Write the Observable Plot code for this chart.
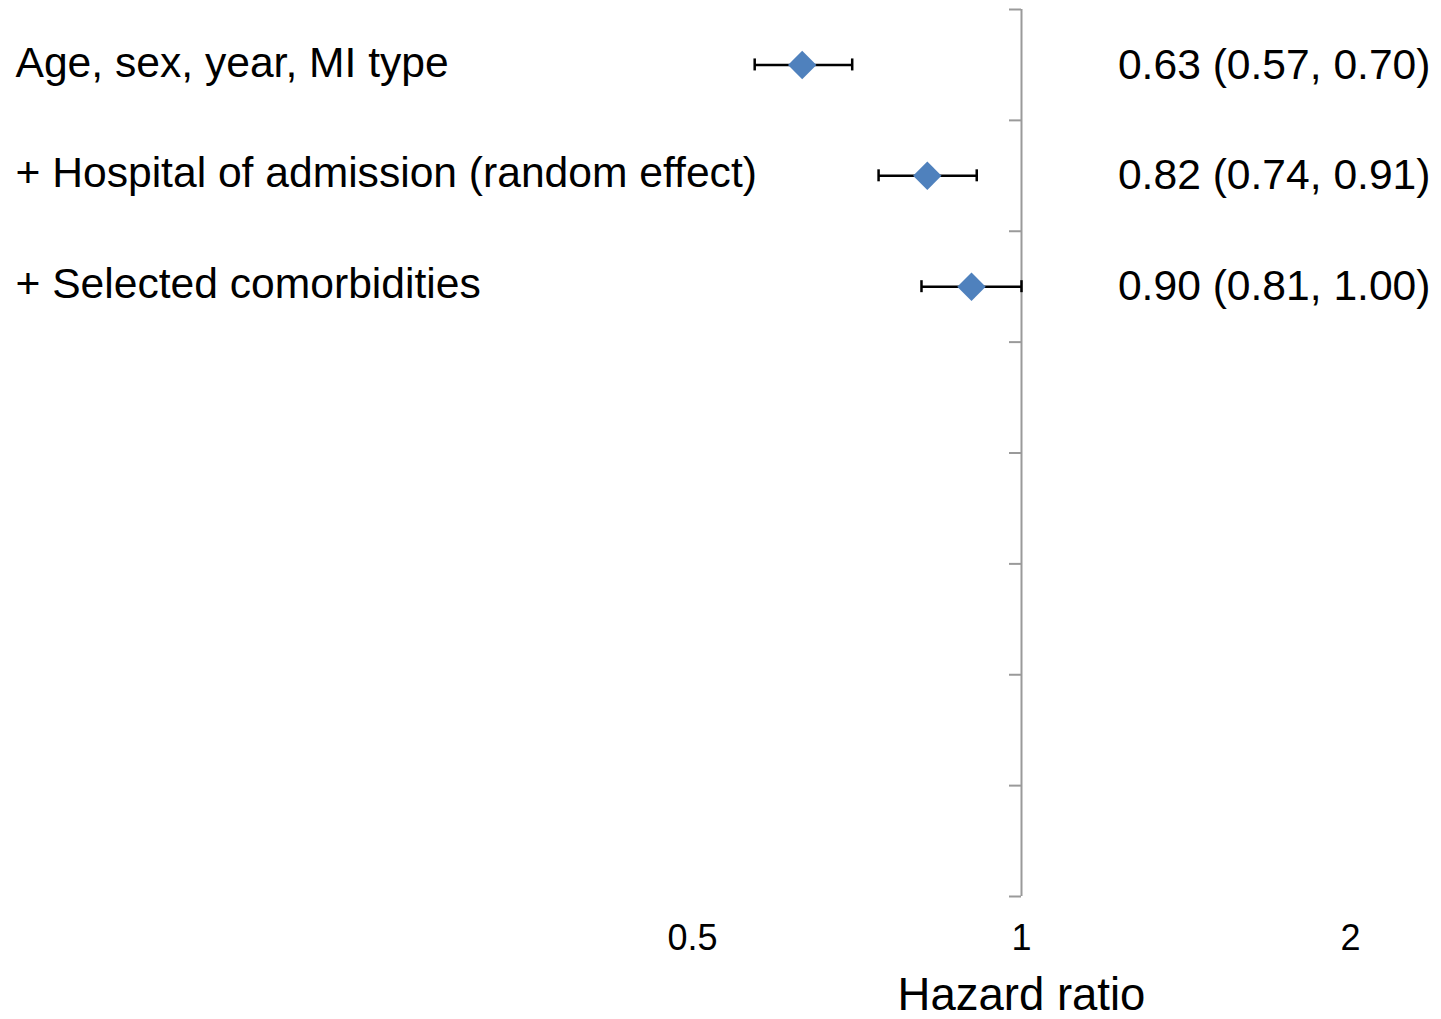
<!DOCTYPE html>
<html>
<head>
<meta charset="utf-8">
<script src="https://cdn.jsdelivr.net/npm/d3@7"></script>
<script src="https://cdn.jsdelivr.net/npm/@observablehq/plot@0.6"></script>
<style>
  html, body { margin: 0; padding: 0; background: #fff; }
  svg { display: block; }
</style>
</head>
<body>
<div id="chart"></div>
<script>
// ---- data ----
const models = [
  "Age, sex, year, MI type",
  "+ Hospital of admission (random effect)",
  "+ Selected comorbidities"
];
const hazardRatio = [0.63, 0.82, 0.90];
const lowerCI = [0.57, 0.74, 0.81];
const upperCI = [0.70, 0.91, 1.00];
const xTicks = [0.5, 1, 2];
const xTickLabels = ["0.5", "1", "2"];
const refLine = 1;
const nBands = 8; // 3 models + empty rows shown on the axis
const xLabel = "Hazard ratio";

const rows = models.map((m, i) => ({
  model: m, idx: i, hr: hazardRatio[i], lo: lowerCI[i], hi: upperCI[i],
  label: `${hazardRatio[i].toFixed(2)} (${lowerCI[i].toFixed(2)}, ${upperCI[i].toFixed(2)})`
}));
const boundaries = d3.range(0, nBands + 1);
const rowY = d => d.idx + 0.5;

const font = "'Liberation Sans', Arial, sans-serif";

const chart = Plot.plot({
  width: 1441,
  height: 1019,
  marginLeft: 0,
  marginRight: 0,
  marginTop: 0,
  marginBottom: 123,
  style: { fontFamily: font, background: "#fff", color: "#000" },
  x: { type: "log", domain: [0.5, 2], range: [692, 1350], axis: null },
  y: { type: "linear", domain: [0, nBands], range: [9, 896], axis: null },
  marks: [
    // vertical reference axis at HR = 1
    Plot.ruleX([refLine], { x: d => d, y1: 0, y2: nBands, stroke: "#9a9a9a", strokeWidth: 2 }),
    // band boundary ticks
    Plot.ruleY(boundaries, { y: d => d, x1: refLine, x2: refLine, insetLeft: -12, stroke: "#9a9a9a", strokeWidth: 2 }),
    // x tick labels
    Plot.axisX(xTicks, {
      anchor: "bottom", tickSize: 0, tickPadding: 28, fontSize: 36,
      tickFormat: (d) => xTickLabels[xTicks.indexOf(d)], label: null, fill: "#000"
    }),
    Plot.text([xLabel], { x: () => refLine, frameAnchor: "bottom", lineAnchor: "bottom", dy: 113, fontSize: 45.5, fill: "#000" }),
    // CI lines
    Plot.ruleY(rows, { y: rowY, x1: "lo", x2: "hi", stroke: "#000", strokeWidth: 2.5 }),
    Plot.ruleX(rows, { x: "lo", y1: rowY, y2: rowY, insetTop: -6, insetBottom: -6, stroke: "#000", strokeWidth: 2.5 }),
    Plot.ruleX(rows, { x: "hi", y1: rowY, y2: rowY, insetTop: -6, insetBottom: -6, stroke: "#000", strokeWidth: 2.5 }),
    // point estimates
    Plot.dot(rows, { x: "hr", y: rowY, symbol: "diamond2", r: 12.8, fill: "#4F81BD", stroke: "none" }),
    // left model labels
    Plot.text(rows, { y: rowY, text: "model", frameAnchor: "left", textAnchor: "start", dx: 15, dy: -2, fontSize: 42.6, lineAnchor: "middle", fill: "#000" }),
    // right estimate labels
    Plot.text(rows, { y: rowY, text: "label", frameAnchor: "right", textAnchor: "end", dx: -11, fontSize: 42.6, lineAnchor: "middle", fill: "#000" })
  ]
});
document.getElementById("chart").appendChild(chart);
</script>
</body>
</html>
